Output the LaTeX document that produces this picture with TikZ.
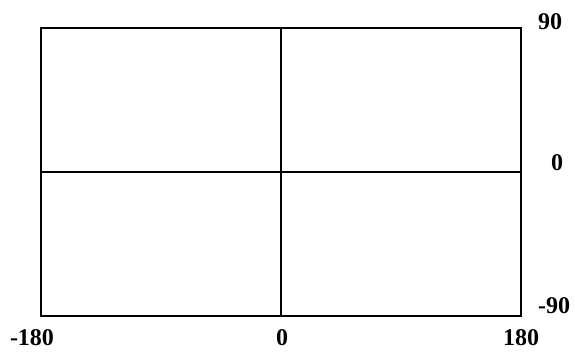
\documentclass[tikz,border=0pt]{standalone}
\usepackage{fontspec}
\setmainfont{Liberation Serif}
\begin{document}
\begin{tikzpicture}[x=1pt,y=1pt,
  frame/.style={draw=black,line width=1.3pt},
  grid/.style={draw=black,line width=1.3pt},
  lbl/.style={font=\fontsize{24}{28}\selectfont\bfseries,inner sep=0pt}]
\useasboundingbox (0,0) rectangle (575,352);
\coordinate (bl) at (41,36);
\coordinate (tr) at (521,324);
\draw[frame] (bl) rectangle (tr);
\coordinate (vt) at (281,324);
\coordinate (vb) at (281,36);
\coordinate (hl) at (41,180);
\coordinate (hr) at (521,180);
\draw[grid] (vt) -- (vb);
\draw[grid] (hl) -- (hr);
\node[lbl] (n90) at (550,330) {90};
\node[lbl] (n0r) at (557,189) {0};
\node[lbl] (nm90) at (554,46) {-90};
\node[lbl] (nm180) at (32,14) {-180};
\node[lbl] (n0b) at (282,14) {0};
\node[lbl] (n180) at (521,14) {180};
\end{tikzpicture}
\end{document}
